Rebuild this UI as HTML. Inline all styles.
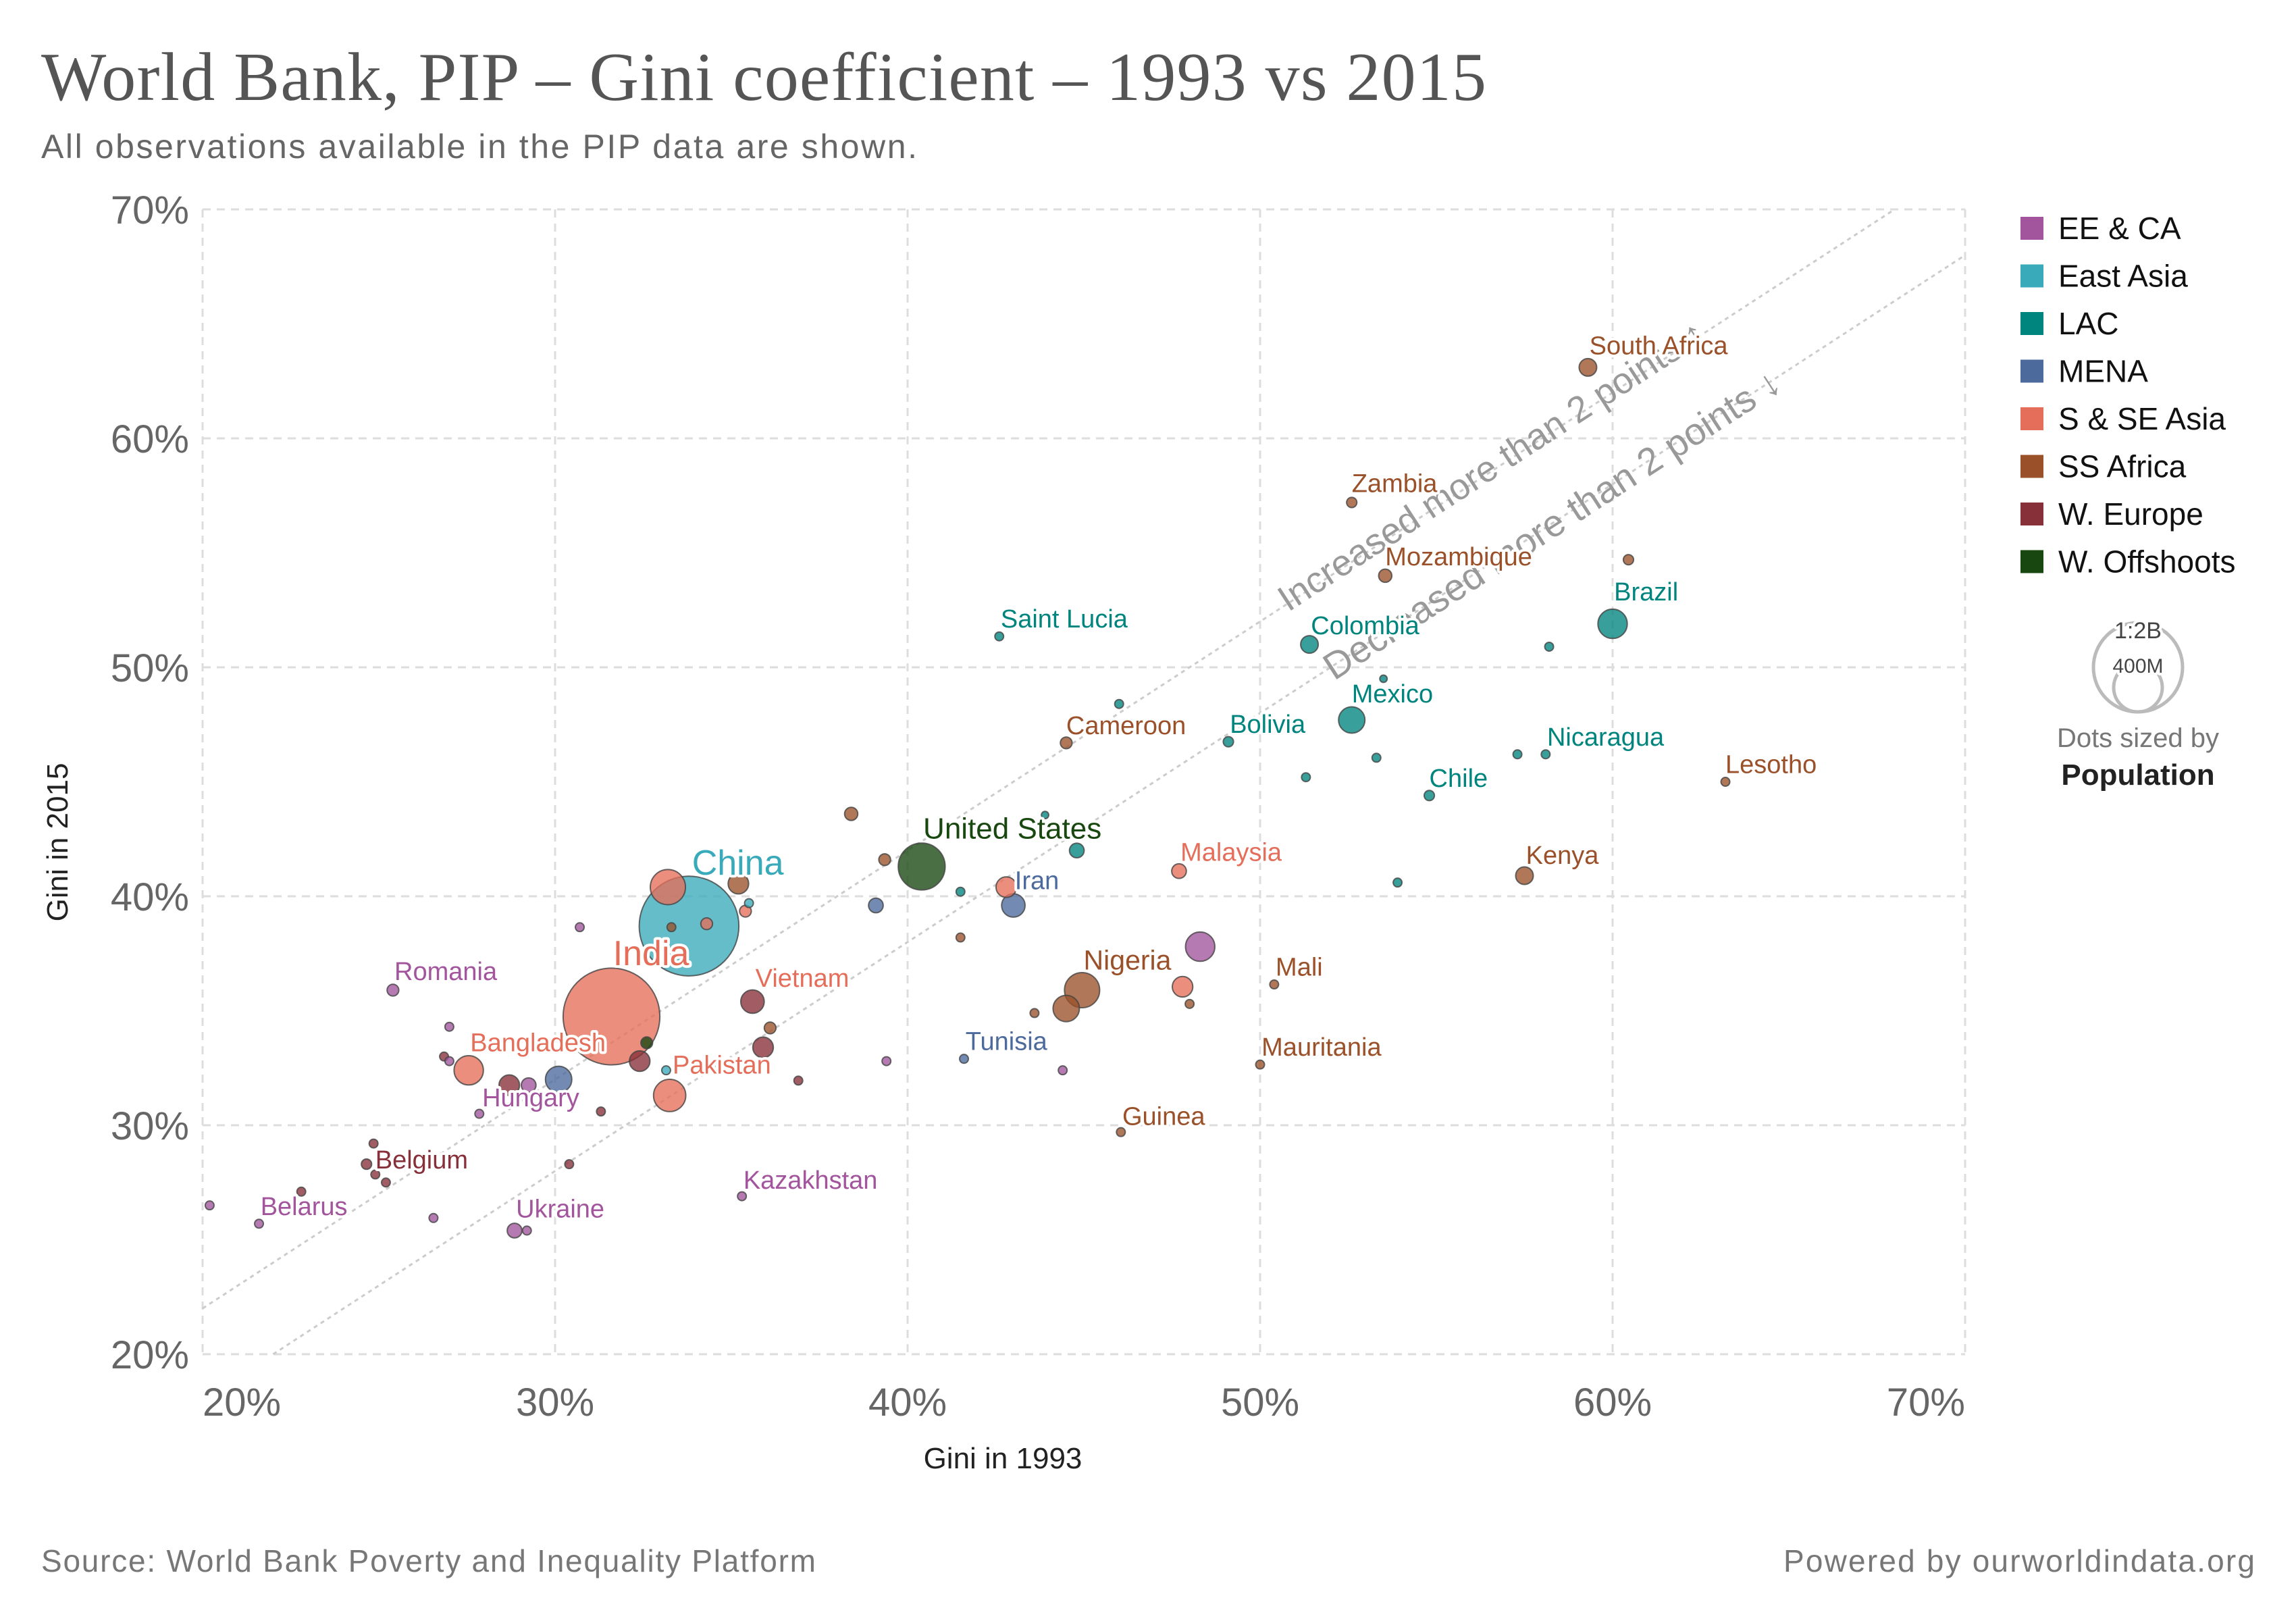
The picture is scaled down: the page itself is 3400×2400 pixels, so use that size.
<!DOCTYPE html>
<html><head><meta charset="utf-8"><style>
body{margin:0;background:#fff}
svg{display:block;font-family:"Liberation Sans",sans-serif}
.lbl{paint-order:stroke;stroke:#fff;stroke-width:8px;stroke-linejoin:round}
</style></head><body>
<svg id="chart" width="3400" height="2400" viewBox="0 0 3400 2400">
<text x="61" y="148" font-family="Liberation Serif,serif" font-size="102" fill="#555" textLength="2140">World Bank, PIP – Gini coefficient – 1993 vs 2015</text>
<text x="61" y="234" font-size="50" fill="#666" textLength="1297">All observations available in the PIP data are shown.</text>
<g id="grid"></g>
<g id="ref"></g>
<g id="dots"></g>
<g id="labels"></g>
<text x="1485" y="2174" text-anchor="middle" font-size="44" fill="#222">Gini in 1993</text>
<text transform="translate(100,1247) rotate(-90)" text-anchor="middle" font-size="44" fill="#222">Gini in 2015</text>
<g id="legend"></g>
<g>
<circle cx="3166" cy="988" r="66" fill="none" stroke="#bbb" stroke-width="5"/>
<circle cx="3166" cy="1018" r="36" fill="none" stroke="#bbb" stroke-width="5"/>
<text x="3166" y="945" text-anchor="middle" font-size="34" fill="#444" class="lbl">1:2B</text>
<text x="3166" y="996" text-anchor="middle" font-size="30" fill="#444" class="lbl">400M</text>
<text x="3166" y="1106" text-anchor="middle" font-size="40" fill="#777">Dots sized by</text>
<text x="3166" y="1162" text-anchor="middle" font-size="44" font-weight="bold" fill="#222">Population</text>
</g>
<text x="61" y="2327" font-size="46" fill="#777" textLength="1147">Source: World Bank Poverty and Inequality Platform</text>
<text x="2641" y="2327" font-size="46" fill="#777" textLength="698">Powered by ourworldindata.org</text>
</svg>
<script>
const regions=["EE & CA","East Asia","LAC","MENA","S & SE Asia","SS Africa","W. Europe","W. Offshoots"];
const regionColors=["#a2559c","#38aaba","#00847e","#4c6a9c","#e56e5a","#9a5129","#883039","#18470f"];
const xTicks=[20,30,40,50,60,70];
const yTicks=[20,30,40,50,60,70];
const names=["South Africa","Zambia","Mozambique","","Brazil","Saint Lucia","Colombia","","","","Mexico","Nicaragua","Cameroon","Bolivia","","","","Chile","Lesotho","","","United States","","","Kenya","","","","","Iran","Malaysia","","China","India","","","","","","","","Romania","","Mali","Nigeria","","","","","Vietnam","","","Tunisia","","Mauritania","","","","Bangladesh","","","","Pakistan","","","","","Hungary","","","Guinea","","Belgium","","","","","Kazakhstan","","","Belarus","Ukraine",""];
const regionIdx=[5,5,5,5,2,2,2,2,2,2,2,2,5,2,2,2,2,2,5,5,2,7,2,5,5,2,5,2,3,3,4,4,1,4,4,5,4,1,4,0,5,0,0,5,5,5,5,5,4,6,5,6,3,0,5,0,6,0,4,7,6,1,4,3,6,0,6,0,6,0,5,6,6,6,6,6,6,0,0,0,0,0,0];
const gini1993=[59.3,52.6,53.55,60.45,60.0,42.6,51.4,58.2,53.5,46.0,52.6,58.1,44.5,49.1,57.3,53.3,51.3,54.8,63.2,38.4,43.9,40.4,44.8,39.35,57.5,53.9,35.2,41.5,39.1,43.0,47.7,42.8,33.8,31.6,33.2,33.3,34.3,35.5,35.4,30.7,41.5,25.4,48.3,50.4,44.95,44.5,43.6,48.0,47.8,35.6,36.1,35.9,41.6,39.4,50.0,27.0,26.85,27.0,27.55,32.6,32.4,33.15,33.25,30.1,28.7,29.25,31.3,27.85,36.9,44.4,46.05,24.85,24.65,24.9,25.2,30.4,22.8,35.3,20.2,26.55,21.6,28.85,29.2];
const gini2015=[63.1,57.2,54.0,54.7,51.9,51.35,51.0,50.9,49.5,48.4,47.7,46.2,46.7,46.75,46.2,46.05,45.2,44.4,45.0,43.6,43.55,41.3,42.0,41.6,40.9,40.6,40.55,40.2,39.6,39.6,41.1,40.4,38.7,34.75,40.4,38.65,38.8,39.7,39.35,38.65,38.2,35.9,37.8,36.15,35.9,35.1,34.9,35.3,36.05,35.4,34.25,33.4,32.9,32.8,32.65,34.3,33.0,32.8,32.4,33.6,32.8,32.4,31.3,32.0,31.75,31.75,30.6,30.5,31.95,32.4,29.7,29.2,28.3,27.85,27.5,28.3,27.1,26.9,26.5,25.95,25.7,25.4,25.4];
const dotRadius=[6,3.5,4.5,3.5,10,3,6,3,2.5,3,9,3,4,3.5,3,3,3,3.5,3,4.5,2.5,16,5,4,6,3,7,3,5,8,5,7,34,33,12,3,4,3,4,3,3,4,10,3,12,9,3,3,7,8,4,7,3,3,3,3,3,3,10,4,7,3,11,9,7,5,3,3,3,3,3,3,3.5,3,3,3,3,3,3,3,3,5,3];
const labelDx=[1,0,0,0,1,1,1,0,0,0,0,1,0,1,0,0,0,0,0,0,0,1,0,0,1,0,0,0,0,1,1,0,2,1,0,0,0,0,0,0,0,1,0,1,1,0,0,0,0,2,0,0,1,0,1,0,0,0,1,0,0,0,2,0,0,0,0,2,0,0,1,0,6,0,0,0,0,1,0,0,1,1,0];
const labelDy=[-9,-7,-7,0,-16,-6,-7,0,0,0,-12,-6,-6,-6,0,0,0,-6,-6,0,0,-19,0,0,-8,0,0,0,0,-11,-7,0,-35,-35,0,0,0,0,0,0,0,-7,0,-6,-14,0,0,0,0,-10,0,0,-6,0,-6,0,0,0,-13,0,0,0,-15,0,0,0,0,-5,0,0,-5,0,3,0,0,0,0,-5,0,0,-6,-9,0];
const K=2.17;
const xS=v=>300+(v-20)*52.2;
const yS=v=>2005-(v-20)*33.9;
const NS="http://www.w3.org/2000/svg";
function mk(tag,attrs,parent){const e=document.createElementNS(NS,tag);for(const k in attrs)e.setAttribute(k,attrs[k]);parent.appendChild(e);return e;}
const grid=document.getElementById('grid');
xTicks.forEach((t,i)=>{
  const l=mk('line',{x1:xS(t),x2:xS(t),y1:yS(70),y2:yS(20),stroke:'#ddd','stroke-width':3,'stroke-dasharray':'12,9'},grid);
  
  
  const anchor=i==0?'start':(i==xTicks.length-1?'end':'middle');
  const tx=mk('text',{x:xS(t),y:2096,'text-anchor':anchor,'font-size':58,fill:'#666'},grid);
  tx.textContent=t+'%';
  
  
});
yTicks.forEach(t=>{
  const l=mk('line',{x1:xS(20),x2:xS(70),y1:yS(t),y2:yS(t),stroke:'#ddd','stroke-width':3,'stroke-dasharray':'12,9'},grid);
  
  
  const tx=mk('text',{x:280,y:yS(t)+21,'text-anchor':'end','font-size':58,fill:'#666'},grid);
  tx.textContent=t+'%';
  
  
});
const ref=document.getElementById('ref');
const up=mk('line',{x1:xS(20),y1:yS(22),x2:xS(68),y2:yS(70),stroke:'#ccc','stroke-width':3,'stroke-dasharray':'6,6'},ref);


const dn=mk('line',{x1:xS(22),y1:yS(20),x2:xS(70),y2:yS(68),stroke:'#ccc','stroke-width':3,'stroke-dasharray':'6,6'},ref);


const ang=-Math.atan(33.9/52.2)*180/Math.PI;
const t1=mk('text',{x:0,y:0,'font-size':54,fill:'#999',transform:`translate(${xS(50.8)},${yS(52.4)}) rotate(${ang})`},ref);
t1.textContent='Increased more than 2 points ↑';


const t2=mk('text',{x:0,y:0,'font-size':56,fill:'#999',transform:`translate(${xS(52.1)},${yS(49.4)}) rotate(${ang})`},ref);
t2.textContent='Decreased more than 2 points ↓';


const dots=document.getElementById('dots');
const order=gini1993.map((_,i)=>i).sort((a,b)=>dotRadius[b]-dotRadius[a]);
order.forEach(i=>{
  const c=mk('circle',{cx:xS(gini1993[i]),cy:yS(gini2015[i]),r:dotRadius[i]*K,fill:regionColors[regionIdx[i]],'fill-opacity':0.78,stroke:'#444','stroke-opacity':0.8,'stroke-width':2},dots);
  
  
});
const labels=document.getElementById('labels');
names.forEach((n,i)=>{
  if(!n)return;
  const big=(n=='China'||n=='India');
  const fs=big?52:(n=='United States'?44:(n=='Nigeria'?41:38));
  const col=n=='Vietnam'?regionColors[4]:regionColors[regionIdx[i]];
  const t=mk('text',{x:xS(gini1993[i])+labelDx[i]*K,y:yS(gini2015[i])+labelDy[i]*K,'font-size':fs,fill:col,class:'lbl'},labels);
  t.textContent=n;
  
  
});
const lg=document.getElementById('legend');
regions.forEach((r,i)=>{
  const y=338+i*70.5;
  const s=mk('rect',{x:2992,y:y-17,width:34,height:34,fill:regionColors[i]},lg);
  
  
  const t=mk('text',{x:3048,y:y+16,'font-size':46,fill:'#111'},lg);
  t.textContent=r;
  
  
});
</script>
</body></html>
